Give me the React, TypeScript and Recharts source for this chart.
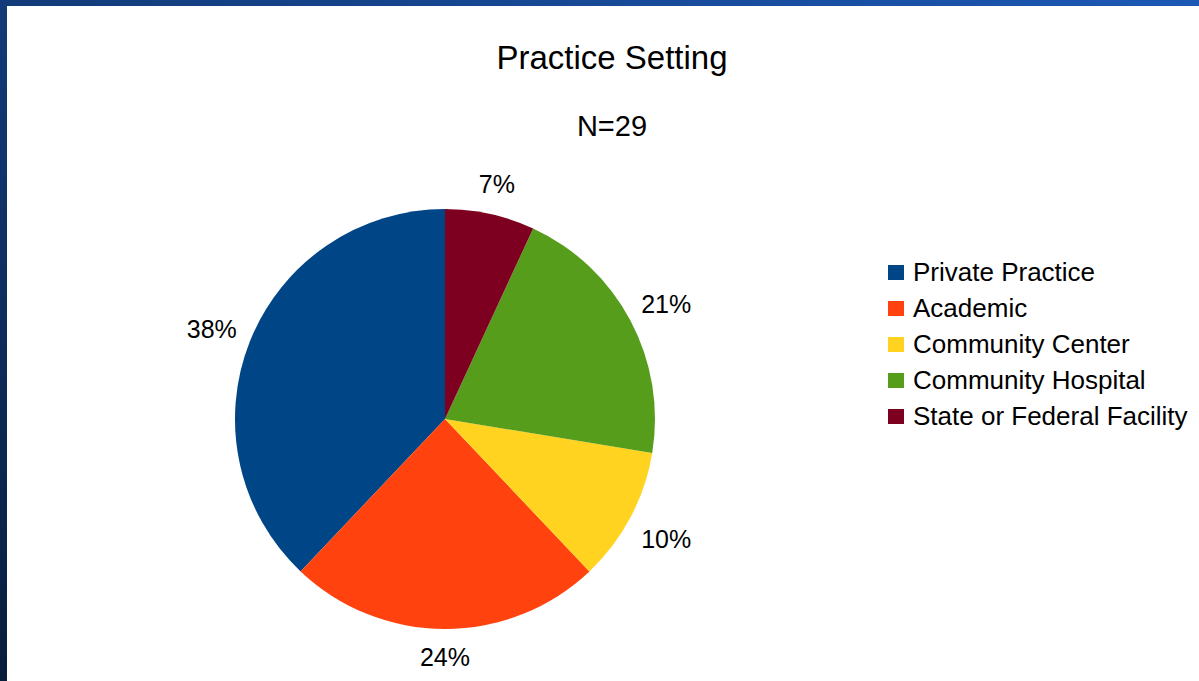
import React from 'react';
import { PieChart, Pie, Cell, Legend } from 'recharts';

const categories = [
  'Private Practice',
  'Academic',
  'Community Center',
  'Community Hospital',
  'State or Federal Facility',
];
const counts = [11, 7, 3, 6, 2];
const colors = ['#004586', '#ff420e', '#ffd320', '#579d1c', '#7e0021'];

const FONT = '"Liberation Sans", Arial, sans-serif';
const RADIAN = Math.PI / 180;
const total = counts.reduce((s, v) => s + v, 0);
const data = categories.map((name, i) => ({ name, value: counts[i] }));

const renderLabel = (props: any) => {
  const { cx, cy, midAngle, outerRadius, value } = props;
  const c = Math.cos(-midAngle * RADIAN);
  const s = Math.sin(-midAngle * RADIAN);
  // push labels further out on the sides, text is wider than tall
  const r = outerRadius + 28 + 14 * Math.abs(c);
  return (
    <text
      x={cx + r * c}
      y={cy + r * s + 3 * Math.abs(c)}
      textAnchor="middle"
      dominantBaseline="central"
      fill="#000"
      fontSize={25}
      fontFamily={FONT}
    >
      {`${Math.round((value / total) * 100)}%`}
    </text>
  );
};

const LegendContent = () => (
  <div style={{ fontFamily: FONT, fontSize: 26, color: '#000' }}>
    {categories.map((name, i) => (
      <div key={name} style={{ display: 'flex', alignItems: 'center', height: 36, whiteSpace: 'nowrap' }}>
        <span style={{ width: 16, height: 15, background: colors[i], marginRight: 9, display: 'inline-block' }} />
        {name}
      </div>
    ))}
  </div>
);

export default function App() {
  return (
    <div
      style={{
        position: 'absolute',
        left: 0,
        top: 0,
        width: 1199,
        height: 681,
        overflow: 'hidden',
        background: 'linear-gradient(to top right, #081d3c, #1c58b5)',
      }}
    >
      <div style={{ position: 'absolute', left: 7, top: 6, right: 0, bottom: 0, background: '#fff' }} />
      <div
        style={{
          position: 'absolute',
          left: 0,
          width: 1224,
          top: 41,
          textAlign: 'center',
          fontFamily: FONT,
          fontSize: 33,
          lineHeight: '33px',
          color: '#000',
        }}
      >
        Practice Setting
      </div>
      <div
        style={{
          position: 'absolute',
          left: 0,
          width: 1224,
          top: 112,
          textAlign: 'center',
          fontFamily: FONT,
          fontSize: 29,
          lineHeight: '29px',
          color: '#000',
        }}
      >
        N=29
      </div>
      <div style={{ position: 'absolute', left: 0, top: 0 }}>
        <PieChart width={1199} height={681} margin={{ top: 0, right: 0, bottom: 0, left: 0 }}>
          <Pie
            data={data}
            dataKey="value"
            nameKey="name"
            cx={445}
            cy={419}
            outerRadius={210}
            startAngle={90}
            endAngle={450}
            stroke="none"
            label={renderLabel}
            labelLine={false}
            isAnimationActive={false}
          >
            {data.map((d, i) => (
              <Cell key={d.name} fill={colors[i]} />
            ))}
          </Pie>
          <Legend
            content={<LegendContent />}
            wrapperStyle={{ position: 'absolute', left: 888, top: 254, width: 'auto' }}
          />
        </PieChart>
      </div>
    </div>
  );
}
